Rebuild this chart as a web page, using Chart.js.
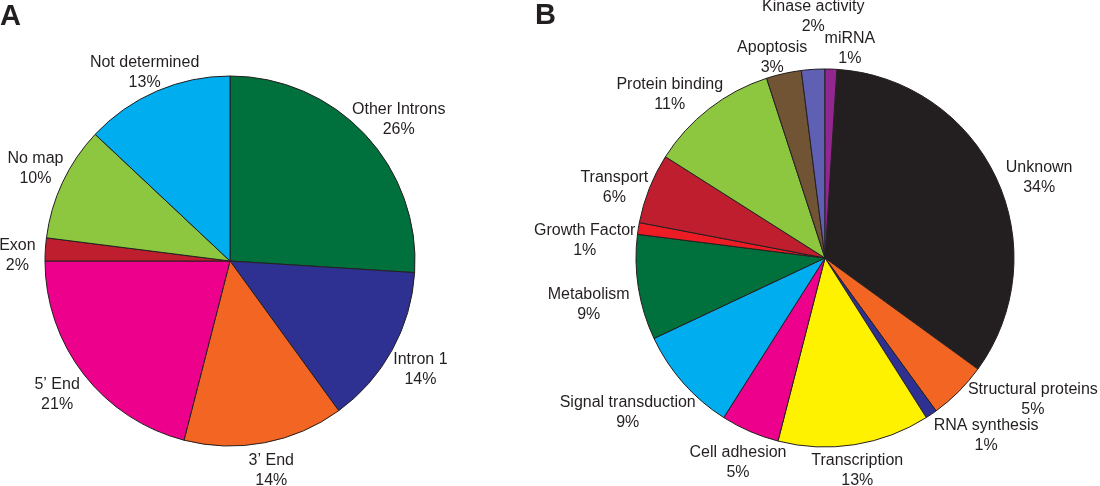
<!DOCTYPE html>
<html>
<head>
<meta charset="utf-8">
<script src="https://cdn.jsdelivr.net/npm/chart.js"></script>
<style>
  body { margin: 0; background: #fff; width: 1100px; height: 486px; position: relative; overflow: hidden; }
  .panel { position: absolute; top: 0; height: 486px; }
  #wrapA { left: 0; width: 460px; }
  #wrapB { left: 530px; width: 570px; }
</style>
</head>
<body>
<div class="panel" id="wrapA"><canvas id="pieA"></canvas></div>
<div class="panel" id="wrapB"><canvas id="pieB"></canvas></div>
<script>
// Panel A - genomic location
var categoriesA = ['Other Introns', 'Intron 1', '3\u2019 End', '5\u2019 End', 'Exon', 'No map', 'Not determined'];
var valuesA = [26, 14, 14, 21, 2, 10, 13];
var colorsA = ['#00703c', '#2e3192', '#f26522', '#ec008c', '#be1e2d', '#8dc63f', '#00aeef'];

// Panel B - function
var categoriesB = ['Unknown', 'Structural proteins', 'RNA synthesis', 'Transcription', 'Cell adhesion',
  'Signal transduction', 'Metabolism', 'Growth Factor', 'Transport', 'Protein binding',
  'Apoptosis', 'Kinase activity', 'miRNA'];
var valuesB = [34, 5, 1, 13, 5, 9, 9, 1, 6, 11, 3, 2, 1];
var colorsB = ['#231f20', '#f26522', '#2e3192', '#fff200', '#ec008c', '#00aeef', '#00703c',
  '#ed1c24', '#be1e2d', '#8dc63f', '#715433', '#5f5fb4', '#92278f'];

// small label shifts so text sits where the original has it
var nudgesA = [[12, 6], [2, 5], [1, -2], [-3, 2], [2, 8], [0, -1], [0, 9]];
var nudgesB = [[16, 13], [53, -13], [38, -4], [-2, -4], [0, 4], [-33, 10], [-20, 12],
  [-24, 17], [-7, 10], [-21, 10], [-5, 13], [2, -23], [18, 9]];

var outsideLabels = {
  id: 'outsideLabels',
  afterDatasetsDraw: function (chart, args, opts) {
    var ctx = chart.ctx;
    var meta = chart.getDatasetMeta(0);
    var labels = chart.data.labels;
    var values = chart.data.datasets[0].data;
    ctx.save();
    ctx.fillStyle = '#231f20';
    ctx.font = '16px "Liberation Sans", Arial, sans-serif';
    ctx.textAlign = 'center';
    ctx.textBaseline = 'middle';
    meta.data.forEach(function (arc, i) {
      var p = arc.getProps(['x', 'y', 'startAngle', 'endAngle', 'outerRadius'], true);
      var mid = (p.startAngle + p.endAngle) / 2;
      var d = p.outerRadius + opts.gap;
      var n = opts.nudges[i] || [0, 0];
      var cx = p.x + Math.cos(mid) * d + n[0];
      var cy = p.y + Math.sin(mid) * d + n[1];
      ctx.fillText(labels[i], cx, cy - 10);
      ctx.fillText(values[i] + '%', cx, cy + 10);
    });
    // panel letter
    ctx.font = 'bold 29px "Liberation Sans", Arial, sans-serif';
    ctx.textAlign = 'left';
    ctx.textBaseline = 'alphabetic';
    ctx.fillText(opts.letter, opts.letterX, opts.letterY);
    ctx.restore();
  }
};

function makePie(id, cats, vals, cols, opts) {
  var ctx = document.getElementById(id).getContext('2d');
  return new Chart(ctx, {
    type: 'pie',
    data: {
      labels: cats,
      datasets: [{
        data: vals,
        backgroundColor: cols,
        borderColor: '#231f20',
        borderWidth: 1
      }]
    },
    options: {
      responsive: true,
      maintainAspectRatio: false,
      animation: false,
      events: [],
      radius: opts.radius,
      rotation: opts.rotation,
      layout: { padding: opts.padding },
      plugins: {
        legend: { display: false },
        tooltip: { enabled: false },
        outsideLabels: {
          gap: 30,
          nudges: opts.nudges,
          letter: opts.letter,
          letterX: opts.letterX,
          letterY: opts.letterY
        }
      }
    },
    plugins: [outsideLabels]
  });
}

makePie('pieA', categoriesA, valuesA, colorsA, {
  radius: 185, rotation: 0, padding: { top: 36 },
  nudges: nudgesA, letter: 'A', letterX: 0, letterY: 25
});

makePie('pieB', categoriesB, valuesB, colorsB, {
  radius: 189, rotation: 3.6, padding: { top: 30, left: 20 },
  nudges: nudgesB, letter: 'B', letterX: 5, letterY: 24
});
</script>
</body>
</html>
